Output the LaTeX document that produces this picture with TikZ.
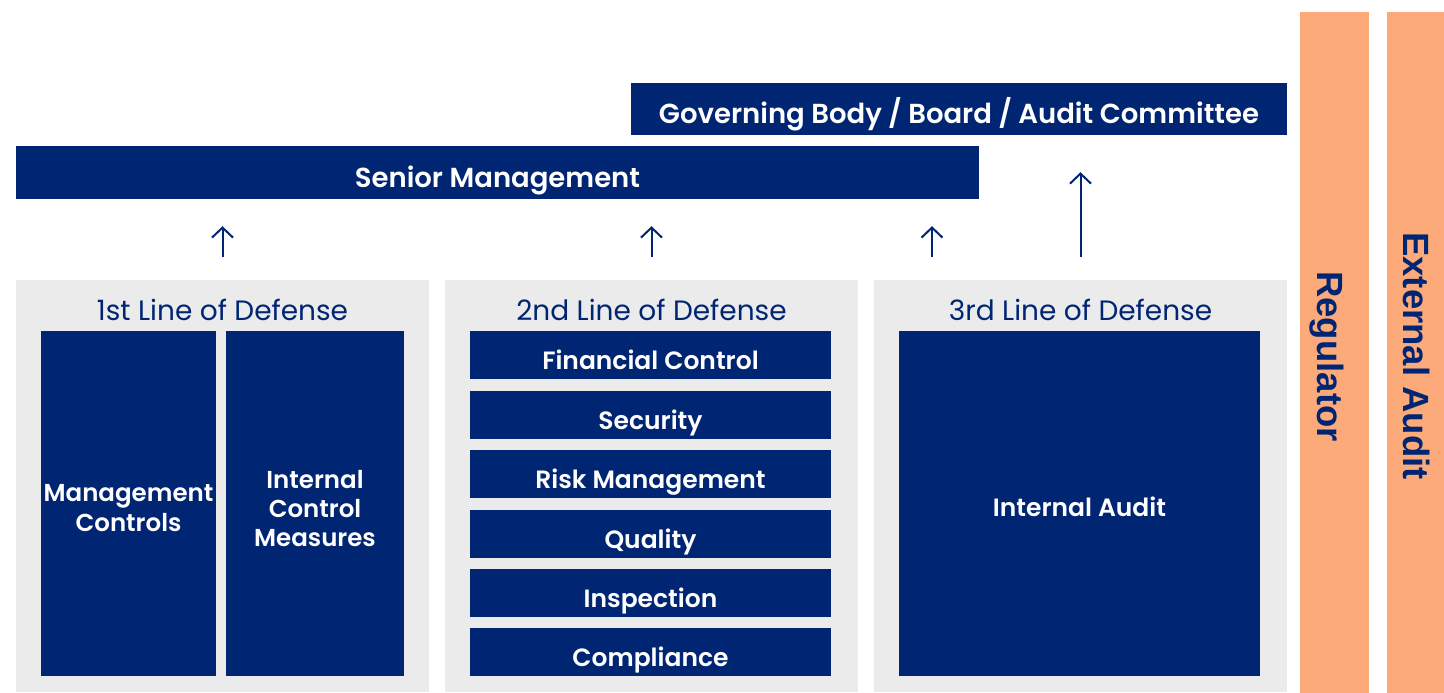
\documentclass[tikz,border=0pt]{standalone}
\usepackage{fontspec}
\setmainfont{Poppins}[BoldFont={Poppins SemiBold}]
\newfontfamily\sidefont{Liberation Sans}
\usetikzlibrary{arrows.meta}
\definecolor{navy}{RGB}{0,38,115}
\definecolor{panelgrey}{RGB}{235,235,235}
\definecolor{peach}{RGB}{252,170,122}
% text height = twice the drop of the (last) baseline below the box centre
\tikzset{
  bar/.style={fill=navy, text=white, inner sep=0pt, text height=29pt, text depth=0pt,
    font=\bfseries\fontsize{27.5}{33}\selectfont},
  panel/.style={fill=panelgrey, inner sep=0pt},
  paneltitle/.style={text=navy, inner sep=0pt, anchor=base, font=\fontsize{28}{33}\selectfont},
  item/.style={fill=navy, text=white, inner sep=0pt, align=center, text depth=0pt,
    font=\bfseries\fontsize{25}{30}\selectfont},
  listitem/.style={item, minimum width=361pt, minimum height=48pt, text height=28pt},
  sidebar/.style={fill=peach, inner sep=0pt},
  sidetext/.style={text=navy, rotate=-90, inner sep=0pt, anchor=base,
    font=\sidefont\bfseries\fontsize{36.5}{40}\selectfont},
  uparrow/.style={draw=navy, line width=2pt, -{Straight Barb[length=10pt,width=21pt,line width=2pt]}}
}
\begin{document}
\begin{tikzpicture}[x=1pt,y=-1pt]
\useasboundingbox[fill=white] (0,0) rectangle (1444,693);

% top bars
\node[bar, minimum width=656pt, minimum height=52pt] (gov) at (959,109) {Governing Body / Board / Audit Committee};
\node[bar, minimum width=963pt, minimum height=53pt] (sm) at (497.5,172.5) {Senior Management};

% the three lines of defense
\node[panel, minimum width=413pt, minimum height=412pt] (p1) at (222.5,486) {};
\node[panel, minimum width=413pt, minimum height=412pt] (p2) at (651.5,486) {};
\node[panel, minimum width=413pt, minimum height=412pt] (p3) at (1080.5,486) {};

\node[paneltitle] (t1) at (222.5,320) {1st Line of Defense};
\node[paneltitle] (t2) at (651.5,320) {2nd Line of Defense};
\node[paneltitle] (t3) at (1080.5,320) {3rd Line of Defense};

% first line
\node[item, minimum width=175pt, minimum height=345pt, text height=56.4pt,
  font=\bfseries\fontsize{24.5}{30}\selectfont] (mc) at (128.5,503.5) {Management\\Controls};
\node[item, minimum width=178pt, minimum height=345pt, text height=86.4pt,
  font=\bfseries\fontsize{24.5}{29.2}\selectfont] (icm) at (315,503.5) {Internal\\Control\\Measures};

% second line
\node[listitem] (fc) at (650.5,355) {Financial Control};
\node[listitem] (sec) at (650.5,415) {Security};
\node[listitem] (rm) at (650.5,474) {Risk Management};
\node[listitem] (qu) at (650.5,534) {Quality};
\node[listitem] (ins) at (650.5,593) {Inspection};
\node[listitem] (com) at (650.5,652) {Compliance};

% third line
\node[item, minimum width=361pt, minimum height=345pt, text height=26.4pt] (ia) at (1079.5,503.5) {Internal Audit};

% external parties
\node[sidebar, minimum width=69pt, minimum height=681pt] (reg) at (1334.5,352.5) {};
\node[sidebar, minimum width=57pt, minimum height=681pt] (ext) at (1415.5,352.5) {};
\node[sidetext] (regt) at (1317,356.5) {Regulator};
\node[sidetext] (extt) at (1403,356) {External Audit};

% reporting arrows
\coordinate (a3) at (932,257);
\draw[uparrow] ([yshift=23pt]p1.north) -- ([yshift=-27pt]p1.north |- sm.south);
\draw[uparrow] ([yshift=23pt]p2.north) -- ([yshift=-27pt]p2.north |- sm.south);
\draw[uparrow] (a3) -- ([yshift=-27pt]a3 |- sm.south);
\draw[uparrow] ([yshift=23pt]p3.north) -- ([yshift=-37pt]p3.north |- gov.south);
\end{tikzpicture}
\end{document}
